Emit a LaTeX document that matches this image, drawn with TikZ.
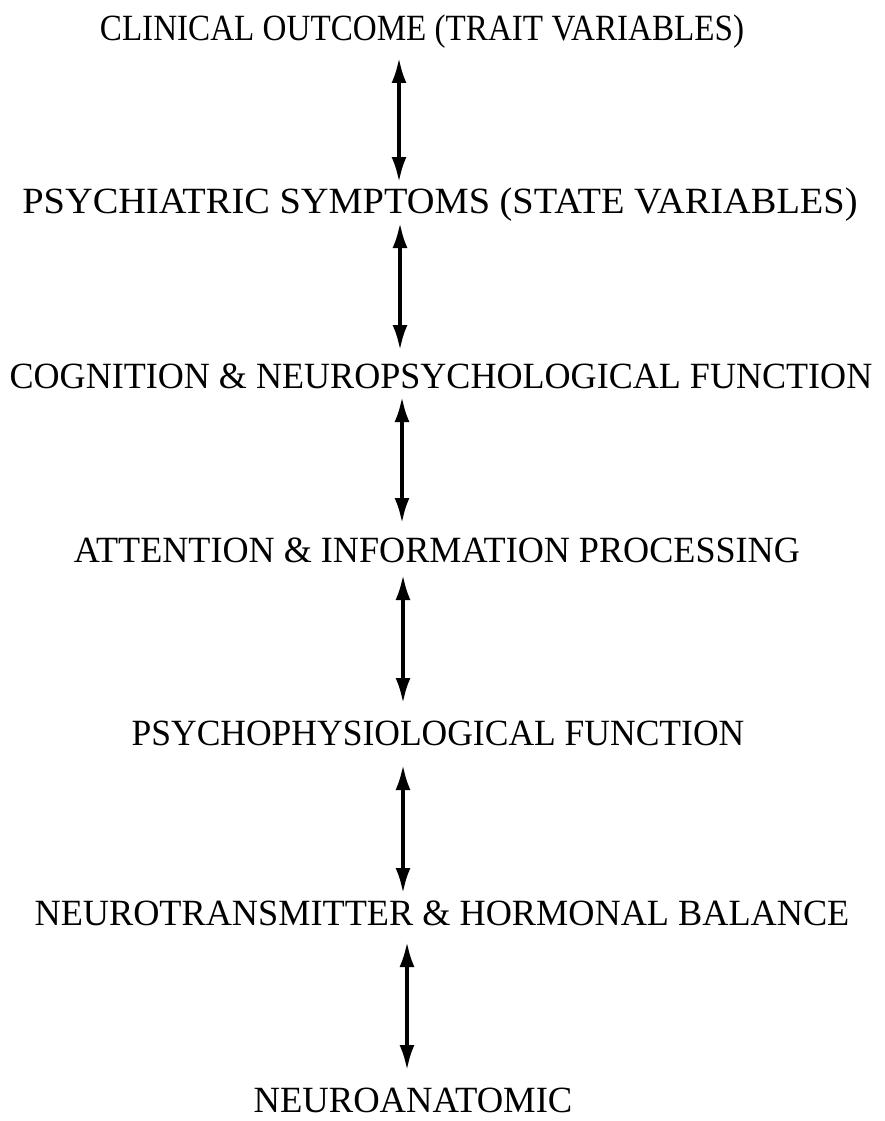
\documentclass[tikz,border=0pt]{standalone}
\usepackage{fontspec}
\setmainfont{Liberation Serif}
\usetikzlibrary{arrows.meta}
\begin{document}
\begin{tikzpicture}[x=1pt,y=-1pt,
  lbl/.style={anchor=base,inner sep=0pt,font=\fontsize{37}{40}\selectfont},
  dbl/.style={line width=3.5pt,{Latex[length=25pt,width=15pt]}-{Latex[length=25pt,width=15pt]}}]
\useasboundingbox (0,0) rectangle (885,1121);
\node[lbl] (t1) at (422,41) {\scalebox{0.895}[1]{CLINICAL OUTCOME (TRAIT VARIABLES)}};
\node[lbl] (t2) at (440,213) {\scalebox{1.038}[1]{PSYCHIATRIC SYMPTOMS (STATE VARIABLES)}};
\node[lbl] (t3) at (441,388) {\scalebox{0.975}[1]{COGNITION \& NEUROPSYCHOLOGICAL FUNCTION}};
\node[lbl] (t4) at (437,562) {\scalebox{0.977}[1]{ATTENTION \& INFORMATION PROCESSING}};
\node[lbl] (t5) at (438,745) {\scalebox{0.96}[1]{PSYCHOPHYSIOLOGICAL FUNCTION}};
\node[lbl] (t6) at (442,925) {\scalebox{0.98}[1]{NEUROTRANSMITTER \& HORMONAL BALANCE}};
\node[lbl] (t7) at (413,1112) {\scalebox{0.99}[1]{NEUROANATOMIC}};
\coordinate (a1s) at (399,58);  \coordinate (a1e) at (399,182);
\coordinate (a2s) at (400,223); \coordinate (a2e) at (400,350);
\coordinate (a3s) at (402,397); \coordinate (a3e) at (402,523);
\coordinate (a4s) at (403,575); \coordinate (a4e) at (403,703);
\coordinate (a5s) at (403,765); \coordinate (a5e) at (403,893);
\coordinate (a6s) at (407,942); \coordinate (a6e) at (407,1070);
\draw[dbl] (a1s) -- (a1e);
\draw[dbl] (a2s) -- (a2e);
\draw[dbl] (a3s) -- (a3e);
\draw[dbl] (a4s) -- (a4e);
\draw[dbl] (a5s) -- (a5e);
\draw[dbl] (a6s) -- (a6e);
\end{tikzpicture}
\end{document}
